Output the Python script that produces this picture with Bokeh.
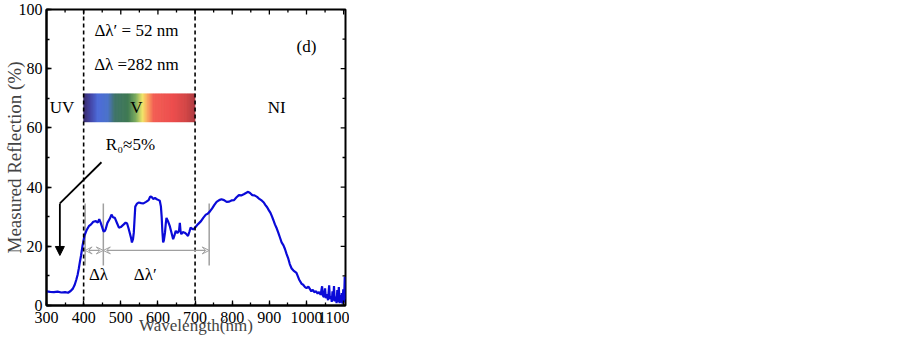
from bokeh.plotting import figure
from bokeh.models import (Range1d, SingleIntervalTicker, Span, Arrow,
                          NormalHead, VeeHead)
from bokeh.core.properties import value
from bokeh.embed import file_html
from bokeh.resources import INLINE
import numpy as np

# ---------------- data ----------------
wavelength = [300, 310, 320, 330, 340, 350, 358, 365, 371, 376, 380, 384, 387, 390, 393, 397,
              402, 406, 409, 414, 420, 426, 433, 438, 442, 446, 450, 453, 456, 459, 464, 470,
              475, 479, 484, 490, 495, 500, 508, 513, 517, 521, 524, 528, 530, 533, 535, 537,
              539, 543, 548, 555, 561, 568, 575, 579, 583, 587, 592, 597, 602, 605, 608, 610,
              612, 614, 616, 619, 621, 623, 627, 632, 636, 641, 644, 648, 651, 654, 657, 659,
              661, 663, 667, 672, 676, 681, 685, 688, 691, 695, 699, 703, 708, 716, 722, 729,
              734, 740, 746, 752, 758, 765, 771, 778, 785, 792, 798, 805, 811, 818, 824, 831,
              837, 843, 848, 854, 860, 867, 873, 880, 885, 889, 894, 898, 903, 907, 911, 915,
              920, 924, 929, 933, 938, 942, 946, 951, 955, 960, 965, 973, 980, 987, 991, 996,
              1000, 1005, 1009, 1013, 1017, 1021, 1026, 1030, 1034, 1038, 1042, 1044, 1047, 1050,
              1052, 1055, 1058, 1061, 1063, 1066, 1068, 1070, 1072, 1074, 1076, 1079, 1081, 1083,
              1085, 1087, 1089, 1091, 1093, 1095, 1097, 1099, 1101, 1103, 1104]
reflection = [4.8, 4.6, 4.5, 4.7, 4.4, 4.5, 4.3, 4.9, 5.7, 7.0, 8.6, 10.5, 12.5, 14.8, 16.9, 20.2,
              23.5, 24.8, 25.7, 26.8, 27.4, 28.3, 28.5, 28.0, 29.2, 27.9, 26.4, 25.2, 25.0, 25.7, 27.9, 29.2,
              30.7, 29.8, 29.6, 27.8, 26.3, 26.5, 27.4, 28.0, 27.7, 26.0, 24.6, 22.6, 21.3, 22.5, 24.6, 29.0,
              33.4, 34.3, 34.8, 34.6, 34.5, 35.0, 35.6, 36.8, 36.7, 36.0, 36.3, 35.9, 35.6, 35.4, 33.5, 30.1,
              25.0, 21.3, 22.0, 24.6, 27.5, 29.6, 28.5, 26.8, 24.8, 22.4, 23.5, 25.2, 24.6, 24.6, 25.5, 27.9,
              25.0, 24.1, 24.8, 24.6, 24.2, 23.5, 25.0, 26.3, 26.0, 25.7, 26.2, 26.8, 27.5, 28.5, 29.6, 30.7,
              31.0, 31.8, 32.8, 34.0, 35.0, 35.6, 35.9, 35.6, 35.0, 35.1, 35.5, 35.6, 36.5, 37.3, 37.2, 37.6,
              38.0, 38.4, 38.0, 37.3, 37.2, 36.7, 36.0, 35.4, 34.8, 34.0, 33.2, 32.3, 31.3, 30.1, 28.8, 27.4,
              26.0, 24.6, 22.8, 21.3, 20.3, 19.1, 17.5, 15.8, 14.0, 12.5, 11.8, 11.0, 8.8, 7.3, 7.0, 6.2,
              5.9, 6.4, 5.6, 4.8, 5.3, 4.5, 4.8, 4.0, 4.6, 3.6, 6.5, 3.4, 2.8, 5.8,
              2.5, 3.8, 1.8, 6.8, 2.2, 3.2, 1.2, 4.8, 1.6, 6.6, 1.4, 3.0, 0.8, 5.2,
              1.2, 6.2, 0.8, 3.5, 1.0, 4.2, 0.6, 5.5, 1.0, 9.7, 2.0]

x_ticks = [300, 400, 500, 600, 700, 800, 900, 1000, 1100]
x_minor = [350, 450, 550, 650, 750, 850, 950, 1050]
y_ticks = [0, 20, 40, 60, 80, 100]
y_minor = [10, 30, 50, 70, 90]

# region boundaries (dashed lines) and visible band
band_edges = [400, 700]
band_y = [62, 71.5]

# annotation texts
ann_text = ["Δλ′ = 52 nm", "Δλ =282 nm", "(d)", "UV", "V", "NI", "R₀≈5%", "Δλ", "Δλ′"]
ann_x = [542, 542, 1000, 342, 542, 920, 526, 440, 566]
ann_y = [93, 81.5, 87.5, 66.8, 66.8, 66.8, 54.4, 10.6, 10.6]

# gray markers for Δλ / Δλ′
marker_x = [404, 453, 738]
marker_y = [13.5, 34.5]
arrow_y = 18.6

# R0 pointer
pointer_x = [336, 448]
pointer_y = [34.5, 48.4, 16.9]

# ---------------- styles ----------------
FONT = "Liberation Serif"
BLUE = "#0a0ad8"
GRAY = "#a0a0a0"
X0, X1 = 300, 1105
MAJ_Y, MIN_Y = 1.7, 1.0      # tick lengths on top edge (data units of y)
MAJ_X, MIN_X = 13.0, 8.0     # tick lengths on right edge (data units of x)
spectrum_stops = [(0.00, (50, 36, 100)), (0.06, (60, 60, 160)), (0.13, (72, 104, 216)),
                  (0.22, (70, 110, 200)), (0.28, (58, 112, 100)), (0.40, (58, 118, 78)),
                  (0.47, (120, 170, 90)), (0.53, (240, 228, 100)), (0.57, (250, 170, 90)),
                  (0.63, (242, 90, 80)), (0.80, (236, 72, 72)), (0.92, (210, 64, 64)),
                  (1.00, (170, 52, 60))]

p = figure(width=349, height=337, output_backend="svg", toolbar_location=None,
           x_range=Range1d(X0, X1), y_range=Range1d(0, 100),
           min_border_left=42, min_border_right=4, min_border_top=9, min_border_bottom=0)
p.background_fill_color = "white"
p.border_fill_color = "white"
p.grid.visible = False
p.outline_line_color = "black"
p.outline_line_width = 2

# spectrum band
stops_t = [s[0] for s in spectrum_stops]
n = 150
edges = np.linspace(band_edges[0], band_edges[1], n + 1)
cols = []
for i in range(n):
    t = (i + 0.5) / n
    rgb = [int(round(np.interp(t, stops_t, [s[1][k] for s in spectrum_stops]))) for k in range(3)]
    cols.append("#%02x%02x%02x" % tuple(rgb))
p.quad(left=edges[:-1], right=edges[1:], bottom=band_y[0], top=band_y[1],
       fill_color=cols, line_color=cols, line_width=0.5)

# dashed boundaries
for xb in band_edges:
    p.add_layout(Span(location=xb, dimension="height", line_color="black",
                      line_dash="4 3", line_width=1.6))

# gray markers
p.segment(x0=marker_x, x1=marker_x, y0=marker_y[0], y1=marker_y[1], line_color=GRAY, line_width=1.5)
for a, b in [(marker_x[0], marker_x[1]), (marker_x[1], marker_x[2])]:
    p.add_layout(Arrow(x_start=a, y_start=arrow_y, x_end=b, y_end=arrow_y,
                       line_color=GRAY, line_width=1.2,
                       start=VeeHead(size=7, line_color=GRAY, fill_color="white", line_width=1),
                       end=VeeHead(size=7, line_color=GRAY, fill_color="white", line_width=1)))

# spectrum curve
p.line(wavelength, reflection, line_color=BLUE, line_width=2.2)

# R0 pointer
p.segment(x0=[pointer_x[0]], y0=[pointer_y[0]], x1=[pointer_x[1]], y1=[pointer_y[1]],
          line_color="black", line_width=1.8)
p.add_layout(Arrow(x_start=pointer_x[0], y_start=pointer_y[0], x_end=pointer_x[0], y_end=pointer_y[2],
                   line_color="black", line_width=1.8,
                   end=NormalHead(size=9, line_color="black", fill_color="black")))

# texts
p.text(x=ann_x, y=ann_y, text=ann_text, text_font=value(FONT), text_font_size="17px",
       text_align="center", text_baseline="middle", text_color="black")

# inward ticks on the top and right edges (mirroring bottom/left axes)
p.segment(x0=x_ticks, x1=x_ticks, y0=[100] * len(x_ticks), y1=[100 - MAJ_Y] * len(x_ticks),
          line_color="black", line_width=1.3)
p.segment(x0=x_minor, x1=x_minor, y0=[100] * len(x_minor), y1=[100 - MIN_Y] * len(x_minor),
          line_color="black", line_width=1.3)
p.segment(x0=[X1] * len(y_ticks), x1=[X1 - MAJ_X] * len(y_ticks), y0=y_ticks, y1=y_ticks,
          line_color="black", line_width=1.3)
p.segment(x0=[X1] * len(y_minor), x1=[X1 - MIN_X] * len(y_minor), y0=y_minor, y1=y_minor,
          line_color="black", line_width=1.3)

# axes
def style_axis(ax, major, minor_n):
    ax.ticker = SingleIntervalTicker(interval=major, num_minor_ticks=minor_n)
    ax.axis_line_color = "black"
    ax.axis_line_width = 2
    ax.major_tick_in = 5
    ax.major_tick_out = 0
    ax.minor_tick_in = 3
    ax.minor_tick_out = 0
    ax.major_tick_line_color = "black"
    ax.minor_tick_line_color = "black"
    ax.major_tick_line_width = 1.3
    ax.minor_tick_line_width = 1.3
    ax.major_label_text_font = FONT
    ax.major_label_text_color = "black"
    ax.major_label_text_font_size = "16px"

xa = p.xaxis[0]
style_axis(xa, 100, 2)
xa.major_label_standoff = 6
xa.axis_label = "Wavelength(nm)"
xa.axis_label_text_font = FONT
xa.axis_label_text_font_style = "normal"
xa.axis_label_text_font_size = "17px"
xa.axis_label_standoff = -10

ya = p.yaxis[0]
style_axis(ya, 20, 2)
ya.major_label_standoff = 4
ya.axis_label = "Measured Reflection (%)"
ya.axis_label_text_font = FONT
ya.axis_label_text_font_style = "normal"
ya.axis_label_text_font_size = "19px"
ya.axis_label_standoff = -9

open("out.html", "w").write(file_html(p, INLINE))
